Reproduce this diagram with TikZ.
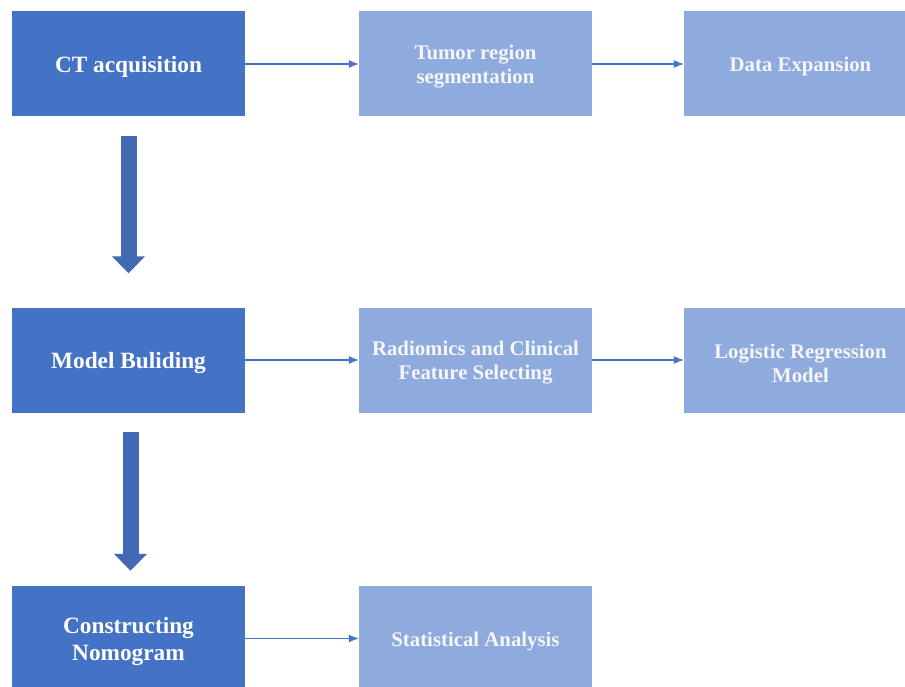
\documentclass[tikz,border=0pt]{standalone}
\usepackage{fontspec}
\setmainfont{Liberation Serif}
\usetikzlibrary{arrows.meta}
\definecolor{darkbox}{HTML}{4472C4}
\definecolor{lightbox}{HTML}{8FAADC}
\definecolor{bigarr}{HTML}{4169B4}
\definecolor{lighttext}{HTML}{F4F6FA}
\begin{document}
\begin{tikzpicture}[x=1pt,y=-1pt,
  boxbase/.style={draw=none, minimum width=233pt, minimum height=105pt, inner sep=0pt},
  darktext/.style={align=center, text=white, yshift=-3pt, inner sep=0pt,
    font=\bfseries\fontsize{23.3}{27}\selectfont},
  lighttextstyle/.style={align=center, text=lighttext, yshift=-3pt, inner sep=0pt,
    font=\bfseries\fontsize{20.8}{24}\selectfont},
  darkstep/.style={boxbase, fill=darkbox, label={[darktext]center:#1}},
  lightstep/.style={boxbase, fill=lightbox, label={[lighttextstyle]center:#1}},
  thinarrow/.style={draw=darkbox, line width=1.2pt, -{Latex[length=10pt,width=8pt]}},
  bigarrow/.style={draw=bigarr, line width=16pt, -{Triangle[width=32pt,length=17pt]}}]
\useasboundingbox (0,0) rectangle (905,687);
\clip (0,0) rectangle (905,687);
% row 1
\node[darkstep={CT acquisition}] (ct) at (128.5,64) {};
\node[lightstep={Tumor region\\segmentation}] (seg) at (475.5,64) {};
\node[lightstep={Data Expansion}] (exp) at (800.5,64) {};
% row 2
\node[darkstep={Model Buliding}] (mb) at (128.5,360) {};
\node[lightstep={Radiomics and Clinical\\Feature Selecting}] (feat) at (475.5,360) {};
\node[lightstep={Logistic Regression\\Model}] (lr) at (800.5,360) {};
% row 3
\node[darkstep={Constructing\\Nomogram}] (nomo) at (128.5,638.5) {};
\node[lightstep={Statistical Analysis}] (stat) at (475.5,638.5) {};
% thin connectors
\draw[thinarrow] (ct.east) -- (seg.west);
\draw[thinarrow] (seg.east) -- (exp.west);
\draw[thinarrow] (mb.east) -- (feat.west);
\draw[thinarrow] (feat.east) -- (lr.west);
\draw[thinarrow] (nomo.east) -- (stat.west);
% big down arrows
\draw[bigarrow] ([yshift=-19pt]ct.south) -- ([yshift=34pt]mb.north);
\draw[bigarrow] ([xshift=2pt,yshift=-19pt]mb.south) -- ([xshift=2pt,yshift=15pt]nomo.north);
\end{tikzpicture}
\end{document}
